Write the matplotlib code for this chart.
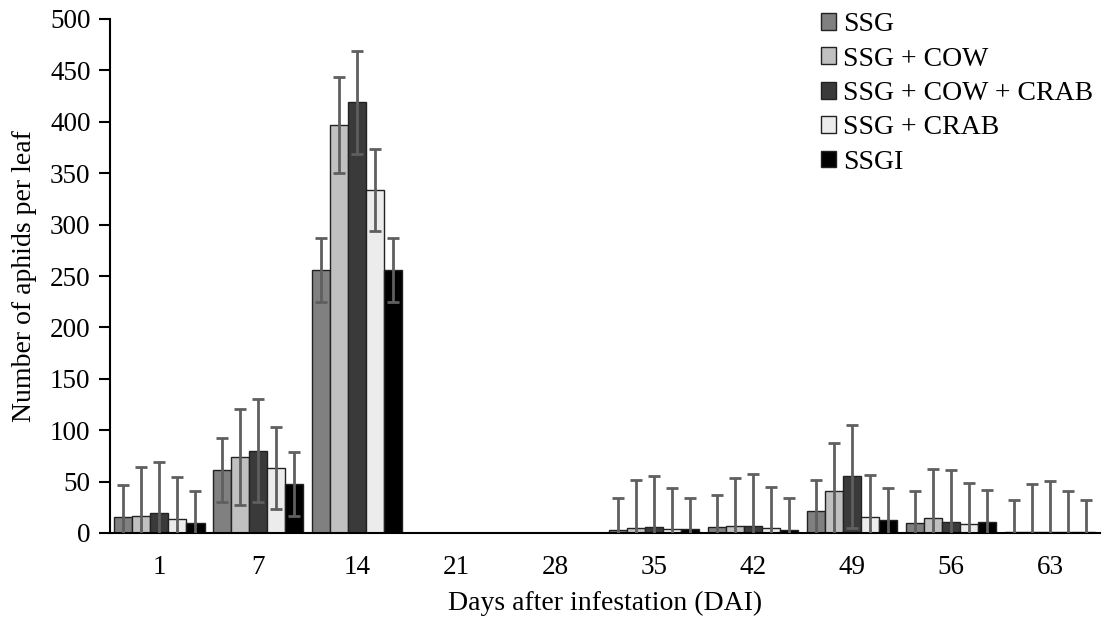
import numpy as np
import matplotlib
matplotlib.use("Agg")
import matplotlib.pyplot as plt

days = ["1", "7", "14", "21", "28", "35", "42", "49", "56", "63"]
series_names = ["SSG", "SSG + COW", "SSG + COW + CRAB", "SSG + CRAB", "SSGI"]
ssg      = [16, 61, 256, np.nan, np.nan, 3, 6, 21, 10, 0.8]
ssg_cow  = [17, 74, 397, np.nan, np.nan, 5, 6.5, 41, 15, 0.8]
ssg_cow_crab = [19, 80, 419, np.nan, np.nan, 5.5, 7, 55, 11, 0.8]
ssg_crab = [14, 63, 334, np.nan, np.nan, 4, 5, 16, 9, 0.8]
ssgi     = [10, 48, 256, np.nan, np.nan, 3.5, 3, 13, 11, 0.8]
errors = [31, 47, 50, 40, 31]
colors = ["#808080", "#c0c0c0", "#3a3a3a", "#ececec", "#000000"]

values = [ssg, ssg_cow, ssg_cow_crab, ssg_crab, ssgi]

plt.rcParams['font.family'] = ['Liberation Serif', 'DejaVu Serif']
fig = plt.figure(figsize=(11.02, 6.25), dpi=100)
ax = fig.add_axes([0.0998, 0.1472, 0.8982, 0.8224])

x = np.arange(len(days))
n = len(values)
w = 0.91 / n
for i, (vals, c, name, e) in enumerate(zip(values, colors, series_names, errors)):
    pos = x - 0.455 + w * (i + 0.5)
    v = np.array(vals, dtype=float)
    err = np.where(np.isnan(v), np.nan, e)
    ax.bar(pos, v, width=w, color=c, edgecolor="#222222", linewidth=1.0, label=name, zorder=2)
    ax.errorbar(pos, v, yerr=err, fmt="none", ecolor="#5f5f5f", elinewidth=2.0,
                capsize=4.5, capthick=2.0, zorder=3)

ax.set_xlim(-0.5, len(days) - 0.5)
ax.set_ylim(0, 500)
ax.set_yticks(np.arange(0, 501, 50))
ax.set_xticks(x)
ax.set_xticklabels(days)
ax.tick_params(axis='x', length=0, pad=16, labelsize=19.5)
ax.tick_params(axis='y', length=8, width=1.5, direction='out', pad=6, labelsize=19.5)
for s in ["top", "right"]:
    ax.spines[s].set_visible(False)
ax.spines["left"].set_linewidth(1.5)
ax.spines["bottom"].set_linewidth(1.5)
ax.set_xlabel("Days after infestation (DAI)", fontsize=20, labelpad=8)
ax.set_ylabel("Number of aphids per leaf", fontsize=20, labelpad=9)

leg = ax.legend(loc="upper left", bbox_to_anchor=(0.707, 1.035), frameon=False, fontsize=20,
                handlelength=0.55, handleheight=0.55, handletextpad=0.25, labelspacing=0.34,
                borderaxespad=0)
fig.savefig("out.png", dpi=100)
